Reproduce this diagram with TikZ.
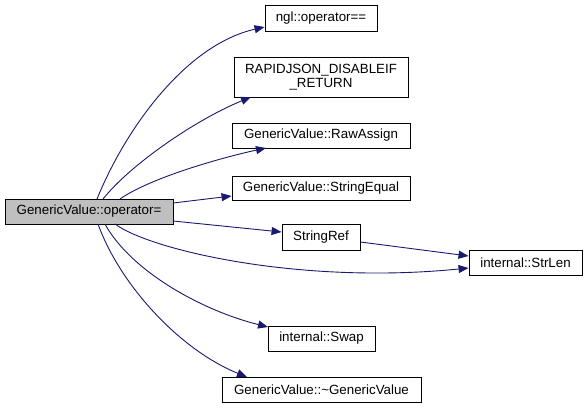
\documentclass[tikz,border=0pt]{standalone}
\usepackage{fontspec}
\setmainfont{Liberation Sans}
\usetikzlibrary{arrows.meta}
\definecolor{edgecol}{HTML}{191970}
\tikzset{
  box/.style={draw=black, line width=0.9pt, fill=white, inner sep=0pt, align=center, font=\fontsize{13.33}{14.5}\selectfont},
  mainbox/.style={box, fill=black!25},
  call/.style={draw=edgecol, line width=0.9pt, -{Stealth[length=10pt,width=8pt,inset=0pt]}},
}
\begin{document}
\begin{tikzpicture}[x=1pt,y=-1pt]
\useasboundingbox (0,0) rectangle (587,408);
\node[mainbox, minimum width=168pt, minimum height=25pt] (main) at (89,211.5) {GenericValue::operator=};
\node[box, minimum width=112pt, minimum height=26pt] (ngl) at (321,18) {ngl::operator==};
\node[box, minimum width=174pt, minimum height=40pt] (rap) at (321,77) {RAPIDJSON\_DISABLEIF\\\_RETURN};
\node[box, minimum width=178pt, minimum height=25pt] (raw) at (321,135.5) {GenericValue::RawAssign};
\node[box, minimum width=178pt, minimum height=24pt] (seq) at (321,188) {GenericValue::StringEqual};
\node[box, minimum width=78pt, minimum height=26pt] (sref) at (321,237) {StringRef};
\node[box, minimum width=113pt, minimum height=25pt] (slen) at (525.5,262.5) {internal::StrLen};
\node[box, minimum width=107pt, minimum height=25pt] (swap) at (321.5,338.5) {internal::Swap};
\node[box, minimum width=199pt, minimum height=25pt] (dtor) at (321.5,389.5) {GenericValue::\textasciitilde GenericValue};
\coordinate (m1) at (97,199);
\coordinate (m2) at (103,199);
\coordinate (m3) at (120,199);
\coordinate (m4) at (173,203);
\coordinate (m5) at (173,221);
\coordinate (m6) at (115,224);
\coordinate (m7) at (105,224);
\coordinate (m8) at (98,224);
\draw[call] (m1) .. controls (125,130) and (185,45) .. (ngl.west|-0,27);
\draw[call] (m2) .. controls (130,165) and (195,120) .. (251,97);
\draw[call] (m3) .. controls (150,178) and (220,158) .. (266,148);
\draw[call] (m4) -- (seq.west|-0,196);
\draw[call] (m5) -- (sref.west|-0,232);
\draw[call] (m6) .. controls (150,250) and (300,285) .. (slen.west|-0,268);
\draw[call] (m7) .. controls (130,270) and (200,310) .. (268,327);
\draw[call] (m8) .. controls (120,285) and (180,350) .. (247,377);
\draw[call] (sref.east|-0,242) -- (slen.west|-0,256);
\end{tikzpicture}
\end{document}
